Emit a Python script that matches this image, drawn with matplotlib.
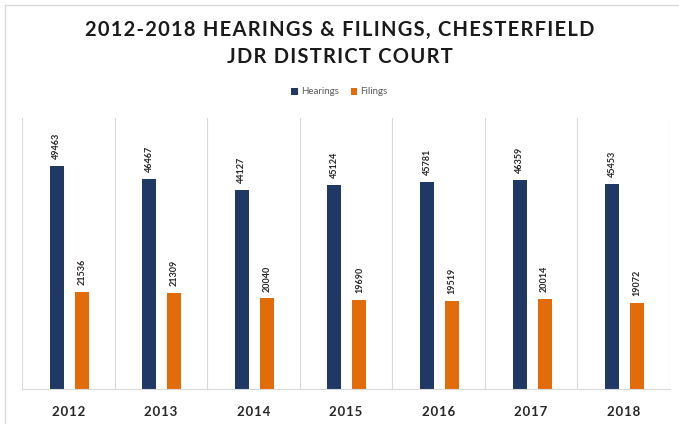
import numpy as np
import matplotlib
matplotlib.use("Agg")
import matplotlib.pyplot as plt
from matplotlib.patches import Rectangle

# --- data ---
years = ["2012", "2013", "2014", "2015", "2016", "2017", "2018"]
hearings = [49463, 46467, 44127, 45124, 45781, 46359, 45453]
filings = [21536, 21309, 20040, 19690, 19519, 20014, 19072]
title_lines = ["2012-2018 HEARINGS & FILINGS, CHESTERFIELD", "JDR DISTRICT COURT"]

navy = "#1f3864"
orange = "#e36c0a"
grid_col = "#d9d9d9"

plt.rcParams['font.family'] = ['Lato', 'DejaVu Sans']


def spaced(s, gap="\u200a"):
    # crude letter spacing: hair space between characters
    return gap.join(s)


fig = plt.figure(figsize=(6.79, 4.24), dpi=100)
ax = fig.add_axes([22 / 679, 35 / 424, 648 / 679, 271 / 424])

x = np.arange(len(years))
w = 0.15
b1 = ax.bar(x - 0.125, hearings, w, color=navy, label="Hearings")
b2 = ax.bar(x + 0.145, filings, w, color=orange, label="Filings")

for bars in (b1, b2):
    for r in bars:
        ax.text(r.get_x() + r.get_width() / 2, r.get_height() + 1500, f"{int(r.get_height())}",
                rotation=90, ha="center", va="bottom", fontsize=6.5, color="#262626",
                fontweight="bold")

ax.set_xlim(-0.5, len(years) - 0.5)
ax.set_ylim(0, 60000)
ax.set_yticks([])
ax.set_xticks(x)
ax.set_xticklabels([spaced(y) for y in years], fontsize=9.5, fontweight="bold", color="#262626")
ax.tick_params(axis="x", length=0, pad=12)

# vertical separators between categories
for s in np.arange(-0.5, len(years), 1.0):
    ax.axvline(s, color=grid_col, lw=0.8, zorder=0)
for side in ("top", "right", "left"):
    ax.spines[side].set_visible(False)
ax.spines["bottom"].set_color(grid_col)

for t, yy in zip(title_lines, (30, 57)):
    fig.text(0.5, 1 - yy / 424, spaced(t), ha="center", va="center",
             fontsize=14.5, fontweight="bold", color="#1a1a1a")

fig.legend(handles=[b1, b2], loc="center", bbox_to_anchor=(0.5, 1 - 92 / 424), ncol=2,
           frameon=False, fontsize=7, handlelength=0.7, handleheight=0.7,
           columnspacing=1.2, handletextpad=0.3, labelcolor="#595959")

# outer frame of the original picture
fig.patches.append(Rectangle((5 / 679, -0.1), 1.2, 1 - 5 / 424 + 0.1, transform=fig.transFigure,
                             fill=False, edgecolor=grid_col, lw=1))

fig.savefig("out.png", dpi=100)
